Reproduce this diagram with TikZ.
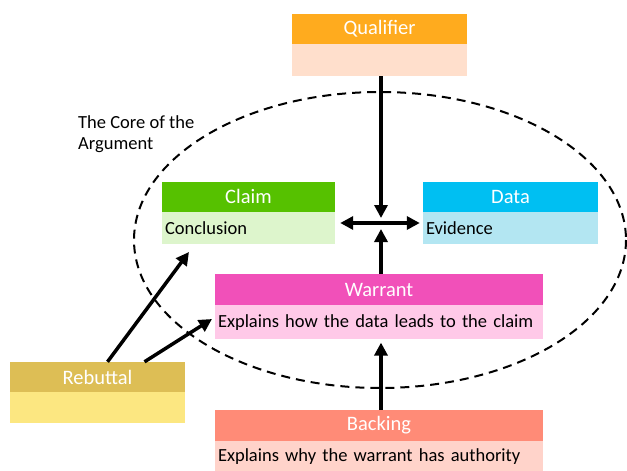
\documentclass[tikz,border=0pt]{standalone}
\usepackage{fontspec}
\setmainfont{Carlito}
\usetikzlibrary{positioning,arrows.meta}

\definecolor{qualhead}{HTML}{FFAB1E}
\definecolor{qualbody}{HTML}{FFDFCC}
\definecolor{claimhead}{HTML}{56C100}
\definecolor{claimbody}{HTML}{DDF5CC}
\definecolor{datahead}{HTML}{00BFF2}
\definecolor{databody}{HTML}{B3E6F2}
\definecolor{warranthead}{HTML}{F150B9}
\definecolor{warrantbody}{HTML}{FFC9E8}
\definecolor{rebuthead}{HTML}{DDBE55}
\definecolor{rebutbody}{HTML}{FCE781}
\definecolor{backhead}{HTML}{FF8B77}
\definecolor{backbody}{HTML}{FFD3CA}

\tikzset{
  head/.style={rectangle, inner sep=0pt, minimum height=30, text=white,
    font=\fontsize{20.5}{22}\selectfont},
  body/.style={rectangle, inner xsep=3pt, inner ysep=0pt, minimum height=32,
    align=left, font=\fontsize{18.5}{21}\selectfont},
  tip/.tip={Triangle[length=13pt,width=13pt]},
  arr/.style={line width=3.5pt, -tip},
}

\begin{document}
\begin{tikzpicture}[x=1pt, y=-1pt]
  \useasboundingbox (0,0) rectangle (627,471);

  % core of the argument
  \draw[line width=2pt, dash pattern=on 9pt off 6pt]
    (380,240) ellipse [x radius=246, y radius=148];
  \node[anchor=north west, align=left, inner sep=0pt,
    font=\fontsize{18.5}{21}\selectfont] (core) at (78,115)
    {The Core of the\\Argument};

  % boxes
  \node[head, fill=qualhead, minimum width=175] (qual) at (379.5,28.5) {Qualifier};
  \node[body, fill=qualbody, text width=169, below=0pt of qual] (qualb) {};

  \node[head, fill=claimhead, minimum width=173] (claim) at (248.5,196.5) {Claim};
  \node[body, fill=claimbody, text width=167, below=0pt of claim] (claimb) {Conclusion};

  \node[head, fill=datahead, minimum width=175] (data) at (510.5,196.5) {Data};
  \node[body, fill=databody, text width=169, below=0pt of data] (datab) {Evidence};

  \node[head, fill=warranthead, minimum width=328, minimum height=31] (warrant) at (379,289.5) {Warrant};
  \node[body, fill=warrantbody, text width=322, minimum height=34, below=0pt of warrant] (warrantb)
    {Explains how the data leads to the claim};

  \node[head, fill=rebuthead, minimum width=175] (rebut) at (97.5,377) {Rebuttal};
  \node[body, fill=rebutbody, text width=169, minimum height=31, below=0pt of rebut] (rebutb) {};

  \node[head, fill=backhead, minimum width=328, minimum height=31] (backing) at (379,425.5) {Backing};
  \node[body, fill=backbody, text width=322, minimum height=30, below=0pt of backing] (backingb)
    {Explains why the warrant has authority};

  % arrows
  \coordinate (hub) at (381,223);
  \coordinate (rc) at (189,252);
  \coordinate (rw) at (212,319);
  \draw[arr] (hub |- qualb.south) -- ([yshift=5]hub);
  \draw[arr] (hub |- warrant.north) -- ([yshift=-6]hub);
  \draw[arr, tip-tip, shorten <=5pt, shorten >=3pt] (claimb.east |- hub) -- (datab.west |- hub);
  \draw[arr, shorten >=3pt] (hub |- backing.north) -- (hub |- warrantb.south);
  \draw[arr] ([xshift=10]rebut.north) -- (rc);
  \draw[arr] ([xshift=47]rebut.north) -- (rw);
\end{tikzpicture}
\end{document}
